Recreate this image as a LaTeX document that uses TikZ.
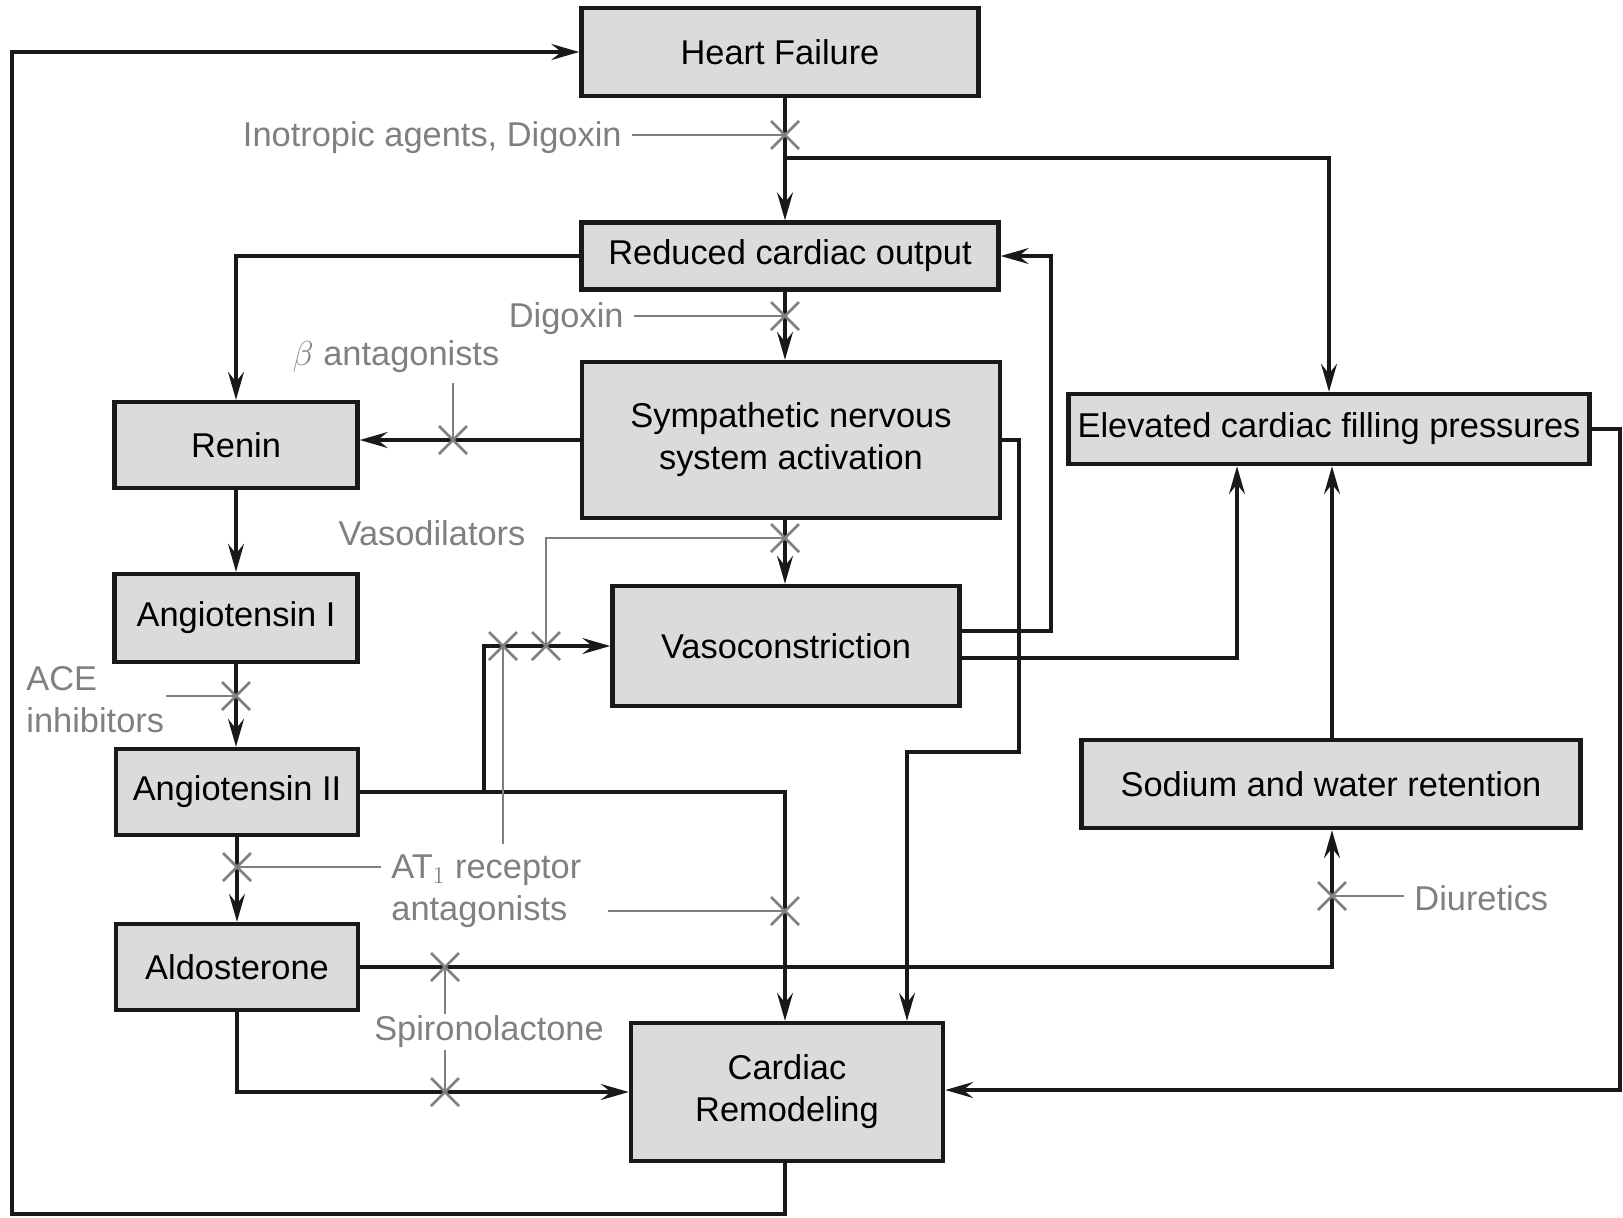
\documentclass[tikz,border=0pt]{standalone}
\usepackage{fontspec}
\setmainfont{Liberation Sans}
\usetikzlibrary{arrows.meta}
\definecolor{boxfill}{gray}{0.86}
\definecolor{druggray}{gray}{0.5}
\begin{document}
\begin{tikzpicture}[x=0.5pt,y=-0.5pt,
  box/.style={draw=black!90, line width=2.2pt, fill=boxfill, inner sep=2pt, align=center,
    font=\fontsize{17.2}{21}\selectfont, text=black},
  lab/.style={text=druggray, font=\fontsize{17.2}{21}\selectfont, inner sep=5pt, align=left},
  flow/.style={draw=black!90, line width=1.6pt, -{Stealth[length=14pt, width=8pt, inset=5pt]}},
  drug/.style={draw=druggray, line width=1.1pt},
  xcross/.pic={\draw[draw=druggray, line width=1.3pt] (-14,-14) -- (14,14) (-14,14) -- (14,-14);}
]
\useasboundingbox (0,0) rectangle (1623,1217);

% nodes
\node[box, minimum width=198.5pt, minimum height=44pt] (hf) at (780,52) {Heart Failure};
\node[box, minimum width=208.5pt, minimum height=33.5pt] (rco) at (790,256) {Reduced cardiac output};
\node[box, minimum width=209pt, minimum height=78pt] (sns) at (791,440) {Sympathetic nervous\\system activation};
\node[box, minimum width=121.5pt, minimum height=43pt] (renin) at (236,445) {Renin};
\node[box, minimum width=260.5pt, minimum height=35pt] (ecfp) at (1329,429) {Elevated cardiac filling pressures};
\node[box, minimum width=121.5pt, minimum height=44pt] (a1) at (236,618) {Angiotensin I};
\node[box, minimum width=173.5pt, minimum height=60pt] (vaso) at (786,646) {Vasoconstriction};
\node[box, minimum width=121pt, minimum height=43pt] (a2) at (237,792) {Angiotensin II};
\node[box, minimum width=249.5pt, minimum height=44pt] (swr) at (1331,784) {Sodium and water retention};
\node[box, minimum width=121pt, minimum height=43pt] (ald) at (237,967) {Aldosterone};
\node[box, minimum width=156pt, minimum height=69pt] (crm) at (787,1092) {Cardiac\\Remodeling};

% drug labels
\node[lab, anchor=east] (ino) at (632,138) {Inotropic agents, Digoxin};
\node[lab, anchor=east] (dig) at (634,319) {Digoxin};
\node[lab] (beta) at (396,357) {$\beta$ antagonists};
\node[lab] (vdil) at (432,533) {Vasodilators};
\node[lab, anchor=west] (ace) at (16,700) {ACE\\inhibitors};
\node[lab, anchor=west] (at1) at (381,891) {AT$_1$ receptor\\antagonists};
\node[lab, inner ysep=1pt] (spiro) at (489,1032) {Spironolactone};
\node[lab, anchor=west] (diu) at (1404,898) {Diuretics};

% helper coordinates
\coordinate (c1) at (785,0);
\coordinate (c6) at (1332,0);
\coordinate (c7) at (907,0);
\coordinate (bl) at (12,1214);
\coordinate (br1) at (785,158);
\coordinate (j1) at (484,792);
\coordinate (k1) at (1019,752);
\coordinate (k2) at (1051,631);
\coordinate (k3) at (1237,658);
\coordinate (k4) at (1620,1090);

% block marks
\coordinate (x1) at (785,135);
\coordinate (x2) at (785,316);
\coordinate (xb) at (453,440);
\coordinate (x3) at (236,696);
\coordinate (x5) at (237,867);
\coordinate (x6) at (503,646);
\coordinate (x9) at (546,646);
\coordinate (x8) at (785,538);
\coordinate (x7) at (785,911);
\coordinate (x10) at (1332,896);
\coordinate (x11) at (445,967);
\coordinate (x12) at (445,1092);

% connectors
\draw[flow] (crm.south -| c1) |- (bl) |- (hf.west);
\draw[flow] (hf.south -| c1) -- (rco.north -| c1);
\draw[flow] (br1) -| (ecfp.north);
\draw[flow] (rco.west) -| (renin.north);
\draw[flow] (rco.south -| c1) -- (sns.north -| c1);
\draw[flow] (sns.west) -- (sns.west -| renin.east);
\draw[flow] (renin.south) -- (a1.north);
\draw[flow] (a1.south) -- (a1.south |- a2.north);
\draw[flow] (a2.south) -- (ald.north);
\draw[flow] (a2.east) -| (crm.north -| c1);
\draw[flow] (j1) |- (vaso.west);
\draw[flow] (sns.south -| c1) -- (vaso.north -| c1);
\draw[flow] (ald.east) -| (swr.south -| c6);
\draw[flow] (ald.south) |- (crm.west);
\draw[flow] (sns.east) -| (k1) -| (crm.north -| c7);
\draw[flow] (vaso.east |- k2) -- (k2) |- (rco.east);
\draw[flow] (vaso.east |- k3) -| (ecfp.south -| k3);
\draw[flow] (swr.north -| c6) -- (ecfp.south -| c6);
\draw[flow] (ecfp.east) -| (k4) -- (crm.east |- k4);

% drug lines
\draw[drug] (ino.east |- x1) -- (x1);
\draw[drug] (dig.east |- x2) -- (x2);
\draw[drug] (beta.south -| xb) -- (xb);
\draw[drug] (x8) -| (x9);
\draw[drug] ([xshift=-4pt]ace.east |- x3) -- (x3);
\draw[drug] (at1.west |- x5) -- (x5);
\draw[drug] (at1.north -| x6) -- (x6);
\draw[drug] ([xshift=8pt]at1.east |- x7) -- (x7);
\draw[drug] (x11) -- (spiro.north -| x11);
\draw[drug] (spiro.south -| x11) -- (x12);
\draw[drug] (diu.west |- x10) -- (x10);

% crosses
\foreach \p in {x1,x2,xb,x3,x5,x6,x9,x8,x7,x10,x11,x12} \pic at (\p) {xcross};
\end{tikzpicture}
\end{document}
